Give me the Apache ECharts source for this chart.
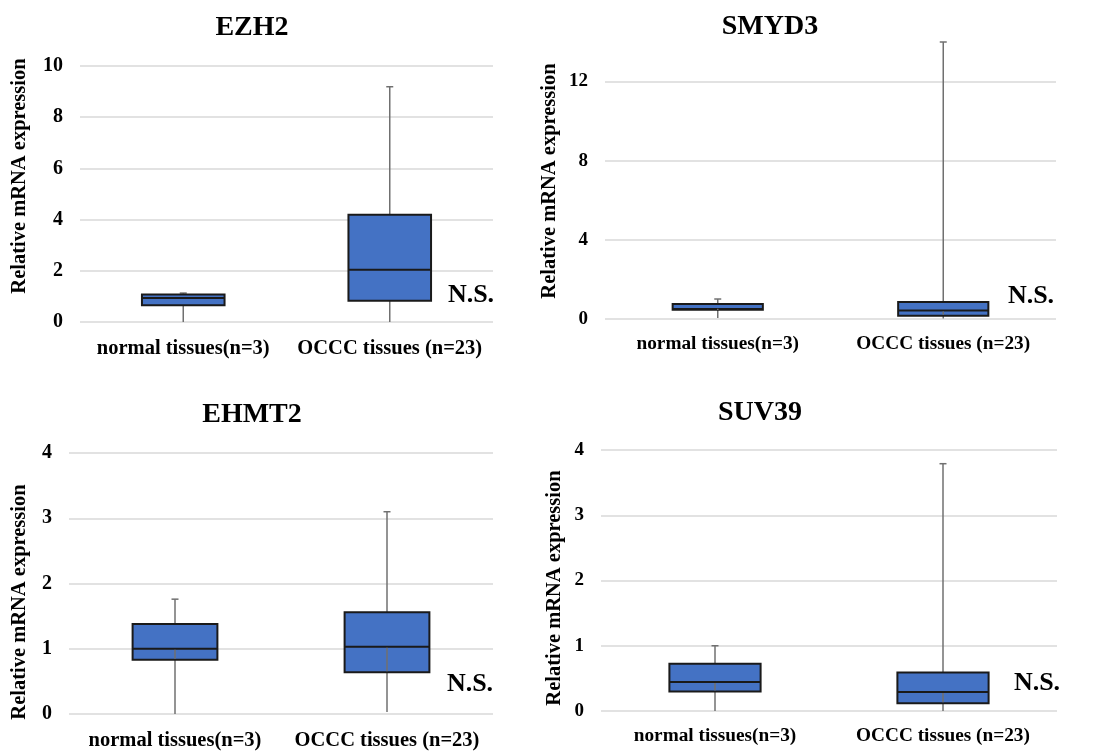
<!DOCTYPE html>
<html>
<head>
<meta charset="utf-8">
<script src="https://cdn.jsdelivr.net/npm/echarts@6/dist/echarts.min.js"></script>
<style>html,body{margin:0;padding:0;background:#fff;}#c{width:1115px;height:752px;}</style>
</head>
<body>
<div id="c"></div>
<script>
// ---- data ----
const categories = ['normal tissues(n=3)', 'OCCC tissues (n=23)'];
const genes = ['EZH2', 'SMYD3', 'EHMT2', 'SUV39'];
// [min, Q1, median, Q3, max] per category
const ezh2  = [[0.00, 0.65, 0.94, 1.07, 1.13], [0.00, 0.83, 2.04, 4.19, 9.19]];
const smyd3 = [[0.05, 0.47, 0.50, 0.76, 1.01], [0.02, 0.17, 0.43, 0.86, 14.0]];
const ehmt2 = [[0.00, 0.83, 1.00, 1.38, 1.76], [0.03, 0.64, 1.03, 1.56, 3.10]];
const suv39 = [[0.00, 0.30, 0.445, 0.725, 1.00], [0.00, 0.12, 0.29, 0.59, 3.79]];
const yMax = [10, 14, 4, 4];
const yInterval = [2, 4, 1, 1];
const yName = 'Relative mRNA expression';
const sigLabel = 'N.S.';

// ---- layout / style ----
const FONT = "'Liberation Serif', 'Times New Roman', serif";
const panels = [
  {data: ezh2,  grid: {left: 80,  right: 622, top: 66,  bottom: 430}, title: [252, 28],  name: [20, 176],  ns: [471, 295],  tick: 20, xl: 20.5, inner: false},
  {data: smyd3, grid: {left: 605, right: 59,  top: 42,  bottom: 433}, title: [770, 27],  name: [550, 181], ns: [1031, 296], tick: 19, xl: 19.3, inner: true},
  {data: ehmt2, grid: {left: 69,  right: 622, top: 453, bottom: 38},  title: [252, 415], name: [20, 602],  ns: [470, 684],  tick: 20, xl: 20.5, inner: true},
  {data: suv39, grid: {left: 601, right: 58,  top: 450, bottom: 41},  title: [760, 413], name: [555, 588], ns: [1037, 683], tick: 19, xl: 19.3, inner: true}
];
const WHISKER = {stroke: '#707070', lineWidth: 1.5};

const grids = [], xAxes = [], yAxes = [], series = [], graphics = [];
panels.forEach((p, i) => {
  grids.push(Object.assign({containLabel: false}, p.grid));
  xAxes.push({
    type: 'category', gridIndex: i, data: categories,
    axisLine: {show: false}, axisTick: {show: false},
    axisLabel: {color: '#000', fontFamily: FONT, fontWeight: 'bold', fontSize: p.xl, margin: 16, interval: 0}
  });
  yAxes.push({
    type: 'value', gridIndex: i, min: 0, max: yMax[i], interval: yInterval[i],
    axisLine: {show: false}, axisTick: {show: false},
    axisLabel: {color: '#000', fontFamily: FONT, fontWeight: 'bold', fontSize: p.tick, margin: 17, showMaxLabel: yMax[i] % yInterval[i] === 0},
    splitLine: {show: true, showMaxLine: yMax[i] % yInterval[i] === 0, lineStyle: {color: '#d9d9d9', width: 1.5}}
  });
  // whiskers (behind boxes)
  series.push({
    type: 'custom', xAxisIndex: i, yAxisIndex: i, z: 1,
    data: p.data.map((d, k) => [k, d[0], d[4]]),
    encode: {x: 0, y: [1, 2]},
    renderItem: function (params, api) {
      const c = api.value(0);
      const a = api.coord([c, api.value(1)]);
      const b = api.coord([c, api.value(2)]);
      return {type: 'group', children: [
        {type: 'line', shape: {x1: a[0], y1: a[1], x2: b[0], y2: b[1]}, style: WHISKER},
        {type: 'line', shape: {x1: b[0] - 3.5, y1: b[1], x2: b[0] + 3.5, y2: b[1]}, style: WHISKER}
      ]};
    }
  });
  // boxes
  series.push({
    type: 'boxplot', xAxisIndex: i, yAxisIndex: i, z: 3,
    boxWidth: ['40%', '40%'],
    data: p.data.map(d => [d[1], d[1], d[2], d[3], d[3]]),
    itemStyle: {color: '#4472c4', borderColor: '#1a1a1a', borderWidth: 2},
    emphasis: {disabled: true}
  });
  // whisker segment visible inside the lower half of the box
  if (p.inner) {
    series.push({
      type: 'custom', xAxisIndex: i, yAxisIndex: i, z: 4,
      data: p.data.map((d, k) => [k, d[1], d[2]]),
      encode: {x: 0, y: [1, 2]},
      renderItem: function (params, api) {
        const c = api.value(0);
        const a = api.coord([c, api.value(1)]);
        const b = api.coord([c, api.value(2)]);
        return {type: 'line', shape: {x1: a[0], y1: a[1] - 1, x2: b[0], y2: b[1] + 1}, style: WHISKER};
      }
    });
  }
  graphics.push({type: 'text', x: p.title[0], y: p.title[1],
    style: {text: genes[i], font: 'bold 28px ' + FONT, fill: '#000', align: 'center', verticalAlign: 'middle'}});
  graphics.push({type: 'text', x: p.name[0], y: p.name[1], rotation: Math.PI / 2,
    style: {text: yName, font: 'bold 20.5px ' + FONT, fill: '#000', align: 'center', verticalAlign: 'middle'}});
  graphics.push({type: 'text', x: p.ns[0], y: p.ns[1],
    style: {text: sigLabel, font: 'bold 26px ' + FONT, fill: '#000', align: 'center', verticalAlign: 'middle'}});
});

const chart = echarts.init(document.getElementById('c'), null, {renderer: 'canvas'});
chart.setOption({
  backgroundColor: '#fff',
  animation: false,
  grid: grids, xAxis: xAxes, yAxis: yAxes, series: series,
  graphic: graphics
});
</script>
</body>
</html>
